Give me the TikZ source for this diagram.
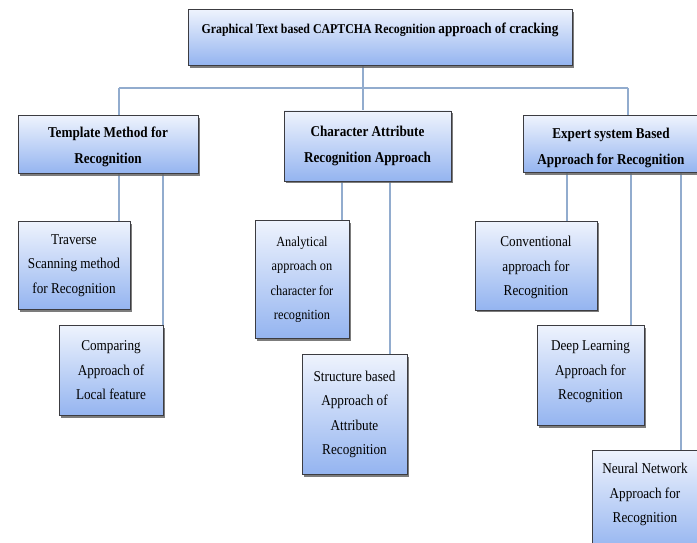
\documentclass[tikz,border=0pt]{standalone}
\usepackage{fontspec}
\setmainfont[FakeStretch=0.88]{Liberation Serif}
\usetikzlibrary{shadows}
\definecolor{boxtop}{RGB}{238,243,253}
\definecolor{boxbot}{RGB}{148,180,240}
\definecolor{boxline}{RGB}{60,60,65}
\definecolor{conncol}{RGB}{146,172,206}
\newcommand{\lift}[1]{\rule{0pt}{#1}}
\tikzset{
  box/.style={draw=boxline, line width=0.8pt, top color=boxtop, bottom color=boxbot,
    drop shadow={shadow xshift=2pt, shadow yshift=-2.2pt, fill=black!60, opacity=0.85},
    align=center, inner sep=0pt},
  lvtwo/.style={box, font=\bfseries\fontsize{15}{26}\selectfont},
  lvthree/.style={box, font=\fontsize{15}{24.5}\selectfont},
  conn/.style={draw=conncol, line width=1.3pt}
}
\begin{document}
\begin{tikzpicture}[x=1pt,y=-1pt]
\clip (0,0) rectangle (697,543);
\fill[white] (0,0) rectangle (697,543);
% connector coordinates
\coordinate (bL) at (119,88);
\coordinate (bC) at (363,88);
\coordinate (bR) at (628,88);
\coordinate (xa) at (119,0);
\coordinate (xb) at (163,0);
\coordinate (xc) at (342,0);
\coordinate (xd) at (390,0);
\coordinate (xe) at (567,0);
\coordinate (xf) at (631,0);
\coordinate (xg) at (681,0);
% connectors (drawn first, under boxes)
\path[conn] (bC) -- (bC |- 0,65);
\path[conn] (bL) -- (bR);
\path[conn] (bL) -- (bL |- 0,116);
\path[conn] (bC) -- (bC |- 0,112);
\path[conn] (bR) -- (bR |- 0,116);
\path[conn] (xa |- 0,173) -- (xa |- 0,222);
\path[conn] (xb |- 0,173) -- (xb |- 0,326);
\path[conn] (xc |- 0,181) -- (xc |- 0,221);
\path[conn] (xd |- 0,181) -- (xd |- 0,355);
\path[conn] (xe |- 0,172) -- (xe |- 0,222);
\path[conn] (xf |- 0,172) -- (xf |- 0,326);
\path[conn] (xg |- 0,172) -- (xg |- 0,451);
% top
\node[box, anchor=north, minimum width=384pt, text height=24pt, text depth=32pt,
  font=\bfseries\fontsize{13.5}{16}\selectfont] (top) at (380,9)
  {Graphical Text based CAPTCHA Recognition {\fontsize{15}{16}\selectfont approach of cracking}};
% level two
\node[lvtwo, minimum width=180pt, minimum height=58pt] (tmpl) at (108,144.5)
  {\lift{15.3pt}Template Method for\\Recognition};
\node[lvtwo, minimum width=167pt, minimum height=70pt] (char) at (367.5,146)
  {Character Attribute\\Recognition Approach};
\node[lvtwo, minimum width=176pt, minimum height=57pt] (expert) at (611,144)
  {\lift{18.3pt}Expert system Based\\Approach for Recognition};
% level three
\node[lvthree, minimum width=112pt, minimum height=88pt] (trav) at (74,265.5)
  {Traverse\\Scanning method\\for Recognition};
\node[lvthree, minimum width=104pt, minimum height=90pt] (comp) at (111,370.5)
  {Comparing\\Approach of\\Local feature};
\node[lvthree, minimum width=94pt, minimum height=118pt, font=\fontsize{14}{24.5}\selectfont] (anal) at (302,279.5)
  {Analytical\\approach on\\character for\\recognition};
\node[lvthree, minimum width=105pt, minimum height=120pt] (struc) at (354.5,414.5)
  {Structure based\\Approach of\\Attribute\\Recognition};
\node[lvthree, minimum width=122pt, minimum height=89pt] (conv) at (536,265.5)
  {\lift{14.5pt}Conventional\\approach for\\Recognition};
\node[lvthree, minimum width=107pt, minimum height=100pt, text depth=10pt] (deep) at (590.5,375.5)
  {Deep Learning\\Approach for\\Recognition};
\node[lvthree, minimum width=106pt, minimum height=102pt, text depth=16pt] (neur) at (645,501)
  {Neural Network\\Approach for\\Recognition};
\end{tikzpicture}
\end{document}
